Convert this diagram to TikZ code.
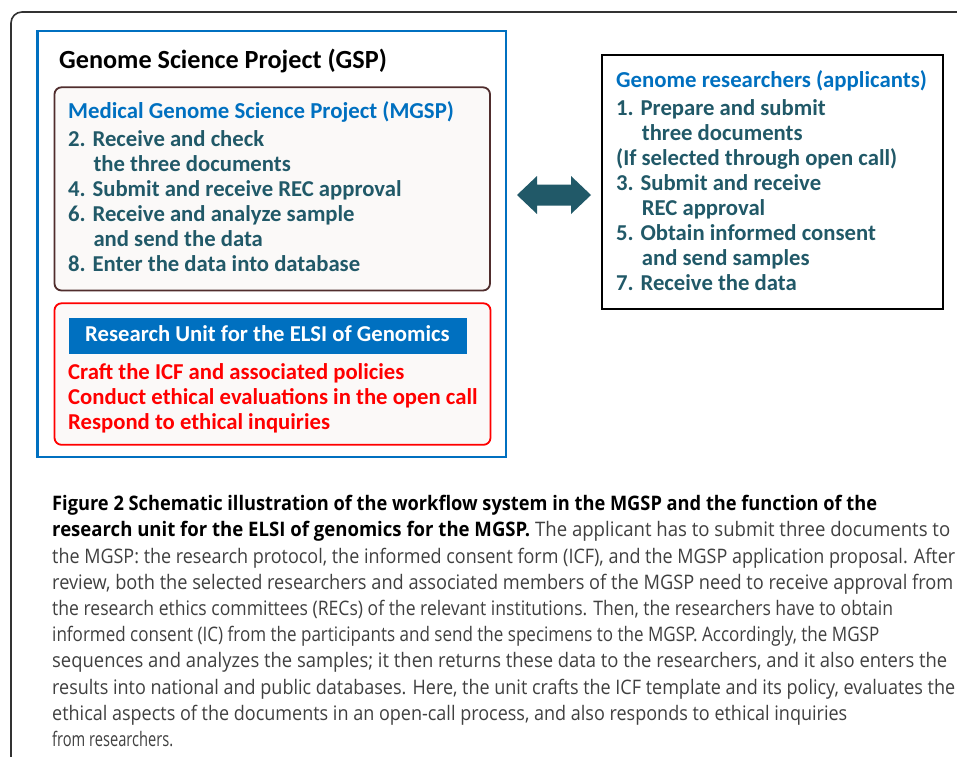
\documentclass[tikz,border=0pt]{standalone}
\usepackage{fontspec}
\usepackage{graphicx}
\setmainfont{Carlito}
\newfontfamily\capfont{Open Sans}
\definecolor{gspblue}{RGB}{0,112,192}
\definecolor{tealtxt}{RGB}{33,89,104}
\definecolor{mgspedge}{RGB}{80,45,45}
\definecolor{boxfill}{RGB}{251,249,248}
\definecolor{elsired}{RGB}{255,0,0}
\definecolor{captxt}{RGB}{64,64,64}
\definecolor{framegray}{RGB}{50,50,50}
\tikzset{
  txt/.style={anchor=base west, inner sep=0pt, font=\fontsize{22.7}{25}\selectfont\bfseries},
  tealline/.style={txt, text=tealtxt},
  redline/.style={txt, text=elsired},
  headline/.style={txt, text=gspblue, font=\fontsize{22.8}{26}\selectfont\bfseries},
  capline/.style={anchor=base west, inner sep=0pt},
}
\newcommand{\capbold}[2]{\resizebox{#1}{\height}{\fontsize{20}{24}\capfont\bfseries #2}}
\newcommand{\capreg}[2]{\resizebox{#1}{\height}{\fontsize{20}{24}\capfont\color{captxt}#2}}
\begin{document}
\begin{tikzpicture}[x=1pt,y=-1pt]
\useasboundingbox (0,0) rectangle (957,756);
\clip (0,0) rectangle (957,756);
\fill[white] (0,0) rectangle (957,756);

% outer figure frame, open at the right and bottom
\draw[framegray, line width=1.6pt, rounded corners=11pt] (11,780) -- (11,12) -- (980,12);

% Genome Science Project box
\draw[gspblue, line width=2.4pt] (37.3,31) rectangle (505.7,456.7);
\node[txt, font=\fontsize{26.2}{30}\selectfont\bfseries, text=black] (gsp) at (59,68.3) {Genome Science Project (GSP)};

% MGSP box
\draw[mgspedge, fill=boxfill, line width=1.8pt, rounded corners=7pt] (54.5,87.3) rectangle (490,290.5);
\node[headline] (mgsp) at (68,118.3) {Medical Genome Science Project (MGSP)};
\node[tealline] (m2a) at (68,146.7) {2. Receive and check};
\node[tealline] (m2b) at (93.3,171.7) {the three documents};
\node[tealline] (m4) at (68,196.7) {4. Submit and receive REC approval};
\node[tealline] (m6a) at (68,221.7) {6. Receive and analyze sample};
\node[tealline] (m6b) at (93.3,246.7) {and send the data};
\node[tealline] (m8) at (68,271.7) {8. Enter the data into database};

% ELSI unit box
\draw[elsired, fill=boxfill, line width=1.8pt, rounded corners=7pt] (54.5,303.3) rectangle (490.5,444.8);
\node[fill=gspblue, minimum width=398.4pt, minimum height=36pt, inner sep=0pt, anchor=north west] (unit) at (68.3,317.3) {};
\node[txt, text=white] (unittxt) at (85,341.7) {Research Unit for the ELSI of Genomics};
\node[redline] (r1) at (68,379.3) {Craft the ICF and associated policies};
\node[redline] (r2) at (68,404.3) {Conduct ethical evaluations in the open call};
\node[redline] (r3) at (68,429.3) {Respond to ethical inquiries};

% two-way exchange arrow
\fill[tealtxt] (517,195) -- (537,176) -- (537,184.5) -- (571,184.5) -- (571,176) -- (591,195)
  -- (571,214) -- (571,205.5) -- (537,205.5) -- (537,214) -- cycle;

% researchers box
\draw[black, line width=2pt] (602.3,55) rectangle (943.3,309);
\node[headline] (res) at (616,87.7) {Genome researchers (applicants)};
\node[tealline] (a1a) at (616,115) {1. Prepare and submit};
\node[tealline] (a1b) at (641.7,140) {three documents};
\node[tealline] (aif) at (616,165) {(If selected through open call)};
\node[tealline] (a3a) at (616,190) {3. Submit and receive};
\node[tealline] (a3b) at (641.7,215) {REC approval};
\node[tealline] (a5a) at (616,240) {5. Obtain informed consent};
\node[tealline] (a5b) at (641.7,265) {and send samples};
\node[tealline] (a7) at (616,290) {7. Receive the data};

% caption
\node[capline] (c1) at (52,510.7) {\capbold{825pt}{Figure 2 Schematic illustration of the workflow system in the MGSP and the function of the}};
\node[capline] (c2) at (52,536.9) {\resizebox{898pt}{\height}{\fontsize{20}{24}\capfont{\bfseries research unit for the ELSI of genomics for the MGSP.} \color{captxt}The applicant has to submit three documents to}};
\node[capline] (c3) at (52,563.1) {\capreg{903pt}{the MGSP: the research protocol, the informed consent form (ICF), and the MGSP application proposal. After}};
\node[capline] (c4) at (52,589.3) {\capreg{901pt}{review, both the selected researchers and associated members of the MGSP need to receive approval from}};
\node[capline] (c5) at (52,615.5) {\capreg{841pt}{the research ethics committees (RECs) of the relevant institutions. Then, the researchers have to obtain}};
\node[capline] (c6) at (52,641.7) {\capreg{827pt}{informed consent (IC) from the participants and send the specimens to the MGSP. Accordingly, the MGSP}};
\node[capline] (c7) at (52,667.9) {\capreg{895pt}{sequences and analyzes the samples; it then returns these data to the researchers, and it also enters the}};
\node[capline] (c8) at (52,694.1) {\capreg{903pt}{results into national and public databases. Here, the unit crafts the ICF template and its policy, evaluates the}};
\node[capline] (c9) at (52,720.3) {\capreg{795pt}{ethical aspects of the documents in an open-call process, and also responds to ethical inquiries}};
\node[capline] (c10) at (52,746.5) {\capreg{121pt}{from researchers.}};
\end{tikzpicture}
\end{document}
